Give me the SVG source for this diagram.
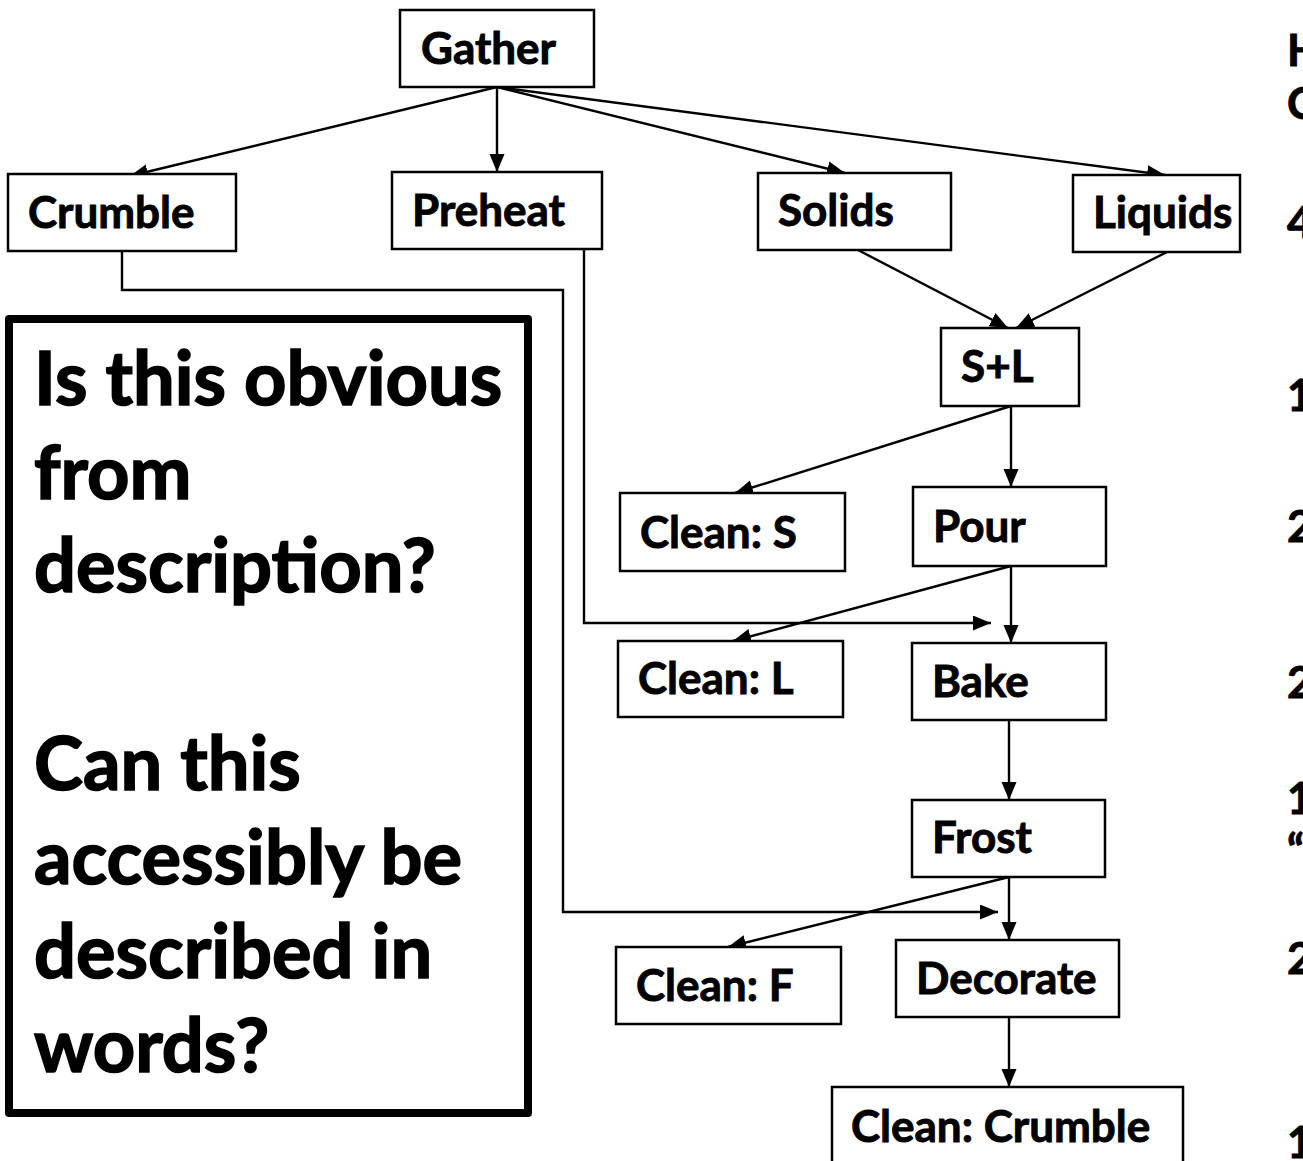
<svg xmlns="http://www.w3.org/2000/svg" width="1303" height="1161" viewBox="0 0 1303 1161">
  <style>
    .box { fill: #fff; stroke: #000; stroke-width: 2.5; }
    .lbl { font-family: "Lato", "Open Sans", sans-serif; font-weight: bold; font-size: 44px; fill: #000; stroke: #000; stroke-width: 0.9; }
    .big { font-family: "Lato", "Open Sans", sans-serif; font-weight: bold; font-size: 74px; fill: #000; stroke: #000; stroke-width: 1.6; }
    .edge { fill: none; stroke: #000; stroke-width: 2.4; }
  </style>
  <defs>
    <marker id="arrow" markerUnits="userSpaceOnUse" markerWidth="19" markerHeight="16" refX="18" refY="7.5" orient="auto">
      <path d="M0,0 L18,7.5 L0,15 z" fill="#000"/>
    </marker>
  </defs>
  <rect width="1303" height="1161" fill="#fff"/>

  <!-- connectors -->
  <g id="connectors">
    <line class="edge" x1="497" y1="87" x2="130" y2="176" marker-end="url(#arrow)"/>
    <line class="edge" x1="497" y1="87" x2="497" y2="172" marker-end="url(#arrow)"/>
    <line class="edge" x1="497" y1="87" x2="845" y2="173" marker-end="url(#arrow)"/>
    <line class="edge" x1="497" y1="87" x2="1165" y2="175" marker-end="url(#arrow)"/>
    <line class="edge" x1="858" y1="250" x2="1008" y2="328" marker-end="url(#arrow)"/>
    <line class="edge" x1="1167" y1="252" x2="1016" y2="328" marker-end="url(#arrow)"/>
    <line class="edge" x1="1011" y1="406" x2="1011" y2="487" marker-end="url(#arrow)"/>
    <line class="edge" x1="1011" y1="406" x2="735" y2="493" marker-end="url(#arrow)"/>
    <line class="edge" x1="1011" y1="566" x2="1011" y2="643" marker-end="url(#arrow)"/>
    <line class="edge" x1="1011" y1="566" x2="733" y2="641" marker-end="url(#arrow)"/>
    <polyline class="edge" points="584,249 584,623 991,623" marker-end="url(#arrow)"/>
    <polyline class="edge" points="122,251 122,290 563,290 563,912 998,912" marker-end="url(#arrow)"/>
    <line class="edge" x1="1009" y1="720" x2="1009" y2="800" marker-end="url(#arrow)"/>
    <line class="edge" x1="1009" y1="877" x2="1009" y2="940" marker-end="url(#arrow)"/>
    <line class="edge" x1="1009" y1="877" x2="728" y2="947" marker-end="url(#arrow)"/>
    <line class="edge" x1="1009" y1="1017" x2="1009" y2="1087" marker-end="url(#arrow)"/>
  </g>

  <!-- process steps -->
  <g id="gather"><rect class="box" x="400" y="10" width="194" height="77"/><text class="lbl" x="421" y="64">Gather</text></g>
  <g id="crumble"><rect class="box" x="8" y="174" width="228" height="77"/><text class="lbl" x="28" y="228">Crumble</text></g>
  <g id="preheat"><rect class="box" x="392" y="172" width="210" height="77"/><text class="lbl" x="412" y="226">Preheat</text></g>
  <g id="solids"><rect class="box" x="758" y="173" width="193" height="77"/><text class="lbl" x="778" y="226">Solids</text></g>
  <g id="liquids"><rect class="box" x="1073" y="175" width="167" height="77"/><text class="lbl" x="1093" y="228">Liquids</text></g>
  <g id="s-plus-l"><rect class="box" x="941" y="328" width="138" height="78"/><text class="lbl" x="961" y="382">S+L</text></g>
  <g id="clean-s"><rect class="box" x="620" y="493" width="225" height="78"/><text class="lbl" x="640" y="548">Clean: S</text></g>
  <g id="pour"><rect class="box" x="913" y="487" width="193" height="79"/><text class="lbl" x="933" y="542">Pour</text></g>
  <g id="clean-l"><rect class="box" x="618" y="641" width="225" height="76"/><text class="lbl" x="638" y="694">Clean: L</text></g>
  <g id="bake"><rect class="box" x="912" y="643" width="194" height="77"/><text class="lbl" x="932" y="697">Bake</text></g>
  <g id="frost"><rect class="box" x="912" y="800" width="193" height="77"/><text class="lbl" x="932" y="853">Frost</text></g>
  <g id="clean-f"><rect class="box" x="616" y="947" width="225" height="77"/><text class="lbl" x="636" y="1001">Clean: F</text></g>
  <g id="decorate"><rect class="box" x="896" y="940" width="223" height="77"/><text class="lbl" x="916" y="994">Decorate</text></g>
  <g id="clean-crumble"><rect class="box" x="832" y="1087" width="351" height="90"/><text class="lbl" x="851" y="1142">Clean: Crumble</text></g>

  <!-- question panel -->
  <g id="question-panel">
    <rect x="9" y="319" width="519" height="794" fill="#fff" stroke="#000" stroke-width="8" stroke-linejoin="round"/>
    <text class="big" x="34" y="405">Is this obvious</text>
    <text class="big" x="34" y="499">from</text>
    <text class="big" x="34" y="592">description?</text>
    <text class="big" x="34" y="790">Can this</text>
    <text class="big" x="34" y="884">accessibly be</text>
    <text class="big" x="34" y="978">described in</text>
    <text class="big" x="34" y="1072">words?</text>
  </g>

  <!-- side notes running off the right edge -->
  <g id="side-notes">
    <text class="lbl" x="1287" y="66">H</text>
    <text class="lbl" x="1287" y="119">C</text>
    <text class="lbl" x="1287" y="238">4</text>
    <text class="lbl" x="1287" y="411">1</text>
    <text class="lbl" x="1287" y="542">2</text>
    <text class="lbl" x="1287" y="698">2</text>
    <text class="lbl" x="1287" y="814">1</text>
    <text class="lbl" x="1287" y="866">“</text>
    <text class="lbl" x="1287" y="974">2</text>
    <text class="lbl" x="1287" y="1158">1</text>
  </g>
</svg>
